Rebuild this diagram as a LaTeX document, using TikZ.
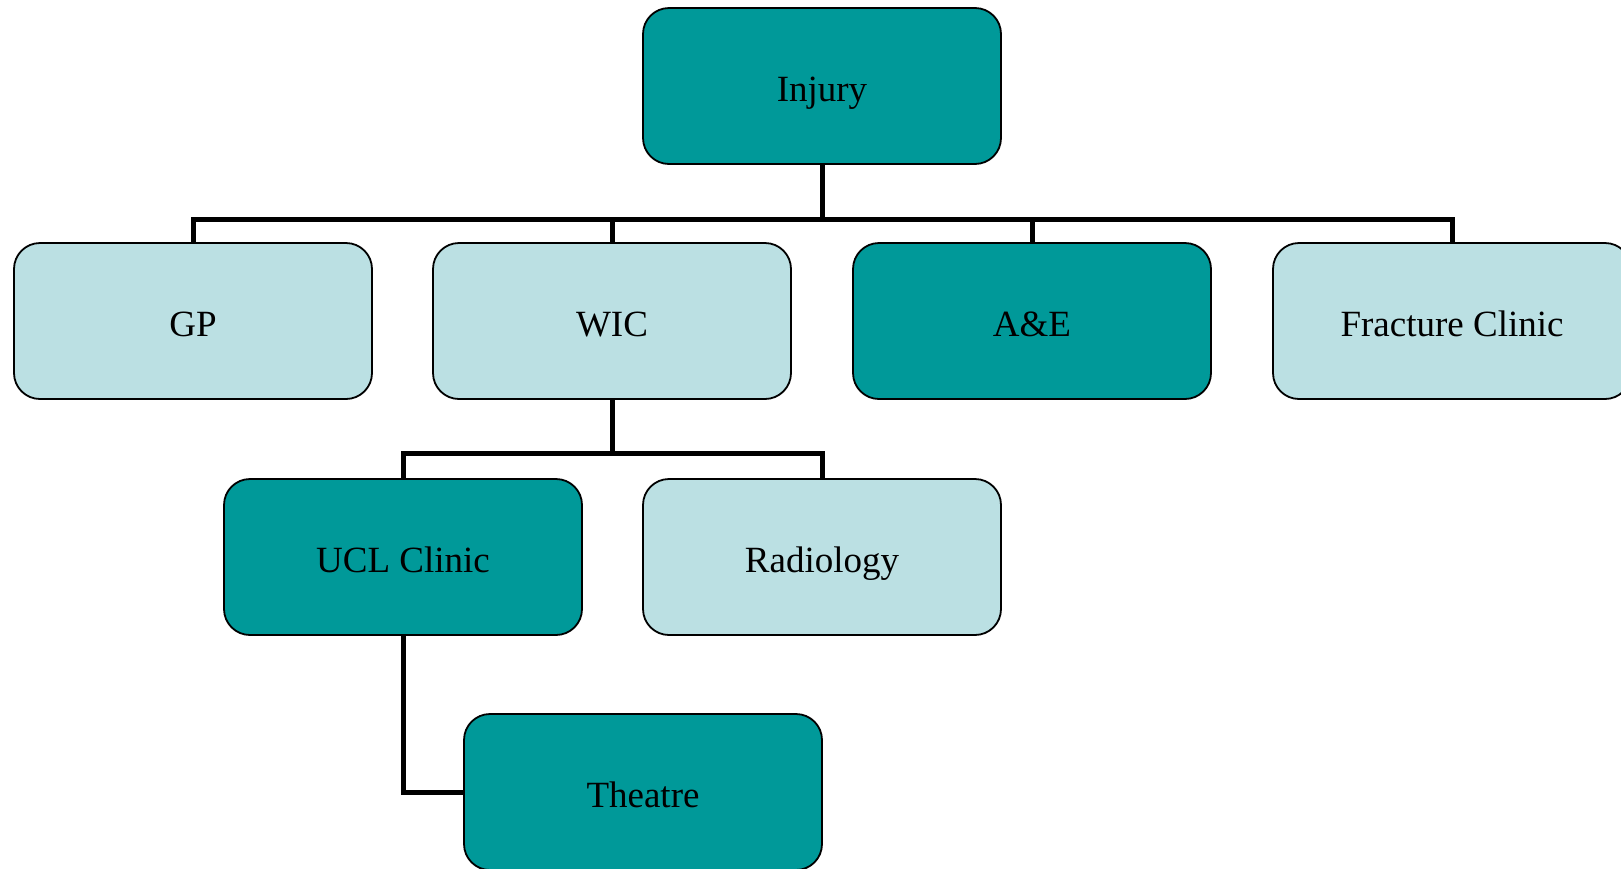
\documentclass[tikz,border=0pt]{standalone}
\usepackage{fontspec}
\setmainfont{Liberation Serif}
\definecolor{darkteal}{RGB}{0,153,153}
\definecolor{lightteal}{RGB}{187,224,227}
\tikzset{
  box/.style={draw=black, line width=1.8pt, rounded corners=26pt, minimum width=358pt, minimum height=156pt, inner sep=0pt, text height=30pt, text depth=0pt, font=\fontsize{37}{44}\selectfont, text=black},
  dark/.style={box, fill=darkteal},
  light/.style={box, fill=lightteal},
  conn/.style={draw=black, line width=5pt}
}
\begin{document}
\begin{tikzpicture}[x=1pt,y=-1pt]
\useasboundingbox (0,0) rectangle (1621,868);
\clip (0,0) rectangle (1621,868);
\node[dark]  (inj) at (822,86)  {Injury};
\node[light] (gp)  at (193,321) {GP};
\node[light] (wic) at (612,321) {WIC};
\node[dark]  (ae)  at (1032,321) {A\&E};
\node[light] (fc)  at (1452,321) {Fracture Clinic};
\node[dark]  (ucl) at (403,557) {UCL Clinic};
\node[light] (rad) at (822,557) {Radiology};
\node[dark]  (th)  at (643,792) {Theatre};
\coordinate (bar1) at (822,219);
\coordinate (bar2) at (612,453);
\draw[conn] (inj.south) -- (inj.south |- bar1) -| (gp.north);
\draw[conn] (inj.south |- bar1) -| (wic.north);
\draw[conn] (inj.south |- bar1) -| (ae.north);
\draw[conn] (inj.south |- bar1) -| (fc.north);
\draw[conn] (wic.south) -- (wic.south |- bar2) -| (ucl.north);
\draw[conn] (wic.south |- bar2) -| (rad.north);
\draw[conn] (ucl.south) |- (th.west);
\end{tikzpicture}
\end{document}
